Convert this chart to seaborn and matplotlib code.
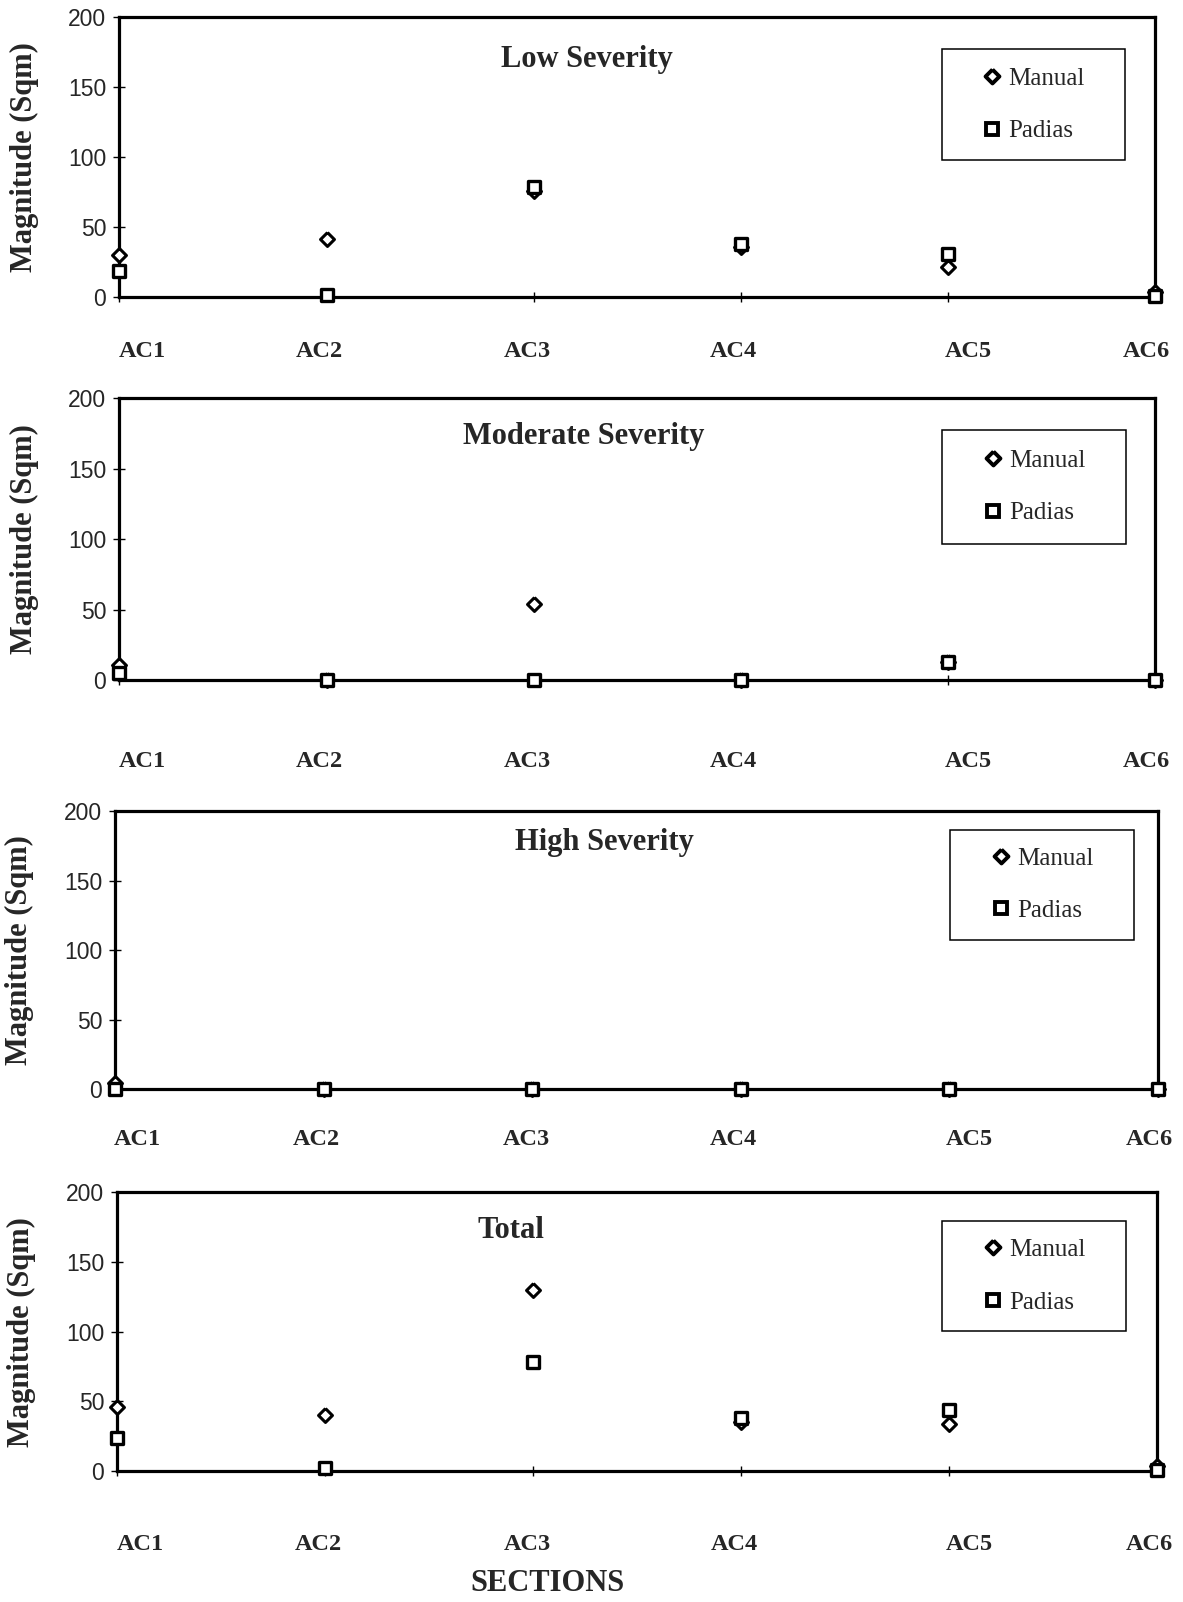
import matplotlib
matplotlib.use("Agg")
import matplotlib.pyplot as plt
import matplotlib.transforms as mtransforms
from matplotlib.patches import Rectangle
from matplotlib.lines import Line2D
import pandas as pd
import seaborn as sns

# ---------------- data ----------------
sections = ["AC1", "AC2", "AC3", "AC4", "AC5", "AC6"]
methods = ["Manual", "Padias"]

low_manual = [30, 42, 76, 36, 22, 4]
low_padias = [19, 2, 79, 38, 31, 1]
moderate_manual = [11, 0, 54, 0, 13, 0]
moderate_padias = [5, 0, 0, 0, 13, 0]
high_manual = [4, 0, 0, 0, 0, 0]
high_padias = [0, 0, 0, 0, 0, 0]
total_manual = [46, 40, 130, 35, 34, 4]
total_padias = [24, 2, 78, 38, 44, 1]

panel_titles = ["Low Severity", "Moderate Severity", "High Severity", "Total"]
y_ticks = [0, 50, 100, 150, 200]
y_label = "Magnitude (Sqm)"
x_label = "SECTIONS"

panels = [
    (low_manual, low_padias),
    (moderate_manual, moderate_padias),
    (high_manual, high_padias),
    (total_manual, total_padias),
]

# ---------------- style / layout ----------------
sns.set_theme(style="white")
plt.rcParams["font.family"] = ["Liberation Serif", "DejaVu Serif"]

SERIF = ["Liberation Serif", "DejaVu Serif"]
SANS = ["Liberation Sans", "DejaVu Sans"]

fig = plt.figure(figsize=(11.83, 16.02), dpi=100)

axes_rects = [
    (0.101, 0.8144, 0.875, 0.1747),
    (0.101, 0.5753, 0.875, 0.1760),
    (0.0976, 0.3202, 0.881, 0.1734),
    (0.0993, 0.0817, 0.879, 0.1741),
]
title_pos = [(0.452, 0.850), (0.448, 0.866), (0.469, 0.886), (0.378, 0.864)]
legend_boxes = [  # x0, y0, x1, y1 in axes fraction
    (0.795, 0.489, 0.971, 0.887),
    (0.795, 0.485, 0.972, 0.888),
    (0.801, 0.537, 0.977, 0.934),
    (0.793, 0.502, 0.970, 0.897),
]
xlabel_pads = [28, 47, 25, 41.5]
xlabel_dx_pt = [16.1, -5.1, -4.4, -5.1, 14.7, -5.9]

diamond = [(0, 1), (1, 0), (0, -1), (-1, 0), (0, 1)]

for k, (rect, (man, pad)) in enumerate(zip(axes_rects, panels)):
    ax = fig.add_axes(rect)
    pos = list(range(len(sections)))
    df = pd.DataFrame({
        "pos": pos * 2,
        "Magnitude": list(man) + list(pad),
        "Method": [methods[0]] * len(sections) + [methods[1]] * len(sections),
    })
    sns.scatterplot(data=df[df["Method"] == "Manual"], x="pos", y="Magnitude",
                    marker=diamond, s=100, color="white", edgecolor="black",
                    linewidth=2.2, ax=ax, legend=False, clip_on=False, zorder=4)
    sns.scatterplot(data=df[df["Method"] == "Padias"], x="pos", y="Magnitude",
                    marker="s", s=70, color="white", edgecolor="black",
                    linewidth=2.4, ax=ax, legend=False, clip_on=False, zorder=5)
    for c in ax.collections:
        c.set_facecolor("white")
        c.set_edgecolor("black")

    ax.set_xlim(0, 5)
    ax.set_ylim(0, 200)
    ax.set_xticks(pos)
    ax.set_xticklabels(sections)
    ax.set_yticks(y_ticks)
    ax.set_yticklabels([str(v) for v in y_ticks])
    ax.set_xlabel("")
    ax.set_ylabel("")

    for sp in ax.spines.values():
        sp.set_visible(True)
        sp.set_color("black")
        sp.set_linewidth(2.3)
        sp.set_zorder(3)

    ax.tick_params(axis="x", direction="inout", length=7, width=1, color="black",
                   pad=xlabel_pads[k], labelsize=17.5, bottom=True)
    ax.tick_params(axis="y", direction="inout", length=9, width=1, color="black",
                   pad=5, labelsize=16.5, left=True)
    for lbl in ax.get_xticklabels():
        lbl.set_fontfamily(SERIF)
        lbl.set_fontweight("bold")
    for lbl in ax.get_yticklabels():
        lbl.set_fontfamily(SANS)
    for lbl, dx in zip(ax.get_xticklabels(), xlabel_dx_pt):
        lbl.set_transform(lbl.get_transform() +
                          mtransforms.ScaledTranslation(dx / 72, 0, fig.dpi_scale_trans))

    # y-axis label
    ax.text(-0.092, 0.5, y_label, transform=ax.transAxes, rotation=90,
            ha="center", va="center", fontsize=22, fontweight="bold", family=SERIF)

    # panel title
    tx, ty = title_pos[k]
    ax.text(tx, ty, panel_titles[k], transform=ax.transAxes, ha="center", va="center",
            fontsize=22, fontweight="bold", family=SERIF)

    # legend box + legend
    x0, y0, x1, y1 = legend_boxes[k]
    ax.add_patch(Rectangle((x0, y0), x1 - x0, y1 - y0, transform=ax.transAxes,
                           facecolor="white", edgecolor="black", linewidth=1.1,
                           zorder=6, clip_on=False))
    handles = [
        Line2D([], [], marker=diamond, ls="none", mfc="white", mec="black", mew=2.8, ms=10),
        Line2D([], [], marker="s", ls="none", mfc="white", mec="black", mew=2.8, ms=8.5),
    ]
    leg = ax.legend(handles, methods, loc="center",
                    bbox_to_anchor=((x0 + x1) / 2, (y0 + y1) / 2),
                    bbox_transform=ax.transAxes, frameon=False,
                    prop={"family": SERIF, "size": 18},
                    handlelength=0.8, handletextpad=0.25, labelspacing=1.2,
                    borderpad=0.0)
    leg.set_zorder(7)

fig.text(0.463, 0.0115, x_label, ha="center", va="center", fontsize=22,
         fontweight="bold", family=SERIF)

fig.savefig("out.png", dpi=100, facecolor="white")
